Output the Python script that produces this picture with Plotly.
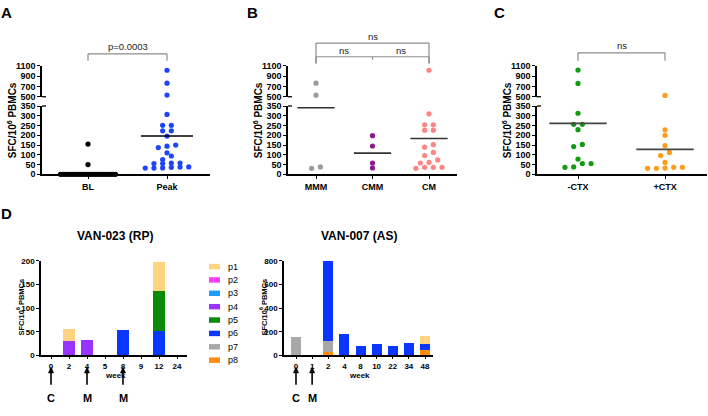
import plotly.graph_objects as go

W, H = 708, 416
FONT = 'Liberation Sans, Arial, sans-serif'

# ---------------- data ----------------
# A: SFC/10^6 PBMCs, baseline vs peak
bl_sfc = [0, 0, 0, 0, 0, 0, 0, 0, 0, 0, 0, 0, 0, 0, 0, 0, 0, 0, 0, 0, 0, 0, 0, 50, 155]
peak_sfc = [1017, 765, 533, 307, 251, 251, 223, 223, 196, 150, 144, 137, 110, 94, 76,
            58, 58, 55, 55, 38, 37, 36, 33, 32, 32]
# B: by vaccine schedule
mmm_sfc = [765, 530, 38, 31]
cmm_sfc = [198, 145, 58, 33]
cm_sfc = [1017, 310, 254, 254, 226, 226, 152, 139, 112, 96, 74, 61, 58, 36, 36, 36, 31]
# C: without / with cyclophosphamide
noctx_sfc = [1020, 760, 313, 256, 256, 229, 153, 142, 78, 55, 55, 38, 36]
ctx_sfc = [525, 228, 200, 147, 112, 96, 61, 36, 36, 32, 31, 31]

# D: peptide responses per week
peptides = ['p1', 'p2', 'p3', 'p4', 'p5', 'p6', 'p7', 'p8']
pep_colors = ['#ffd480', '#ff3dff', '#1f9bff', '#9933ff', '#0a8c0a', '#0a36ff', '#a8a8a8', '#ff8c0a']

van023_weeks = ['0', '2', '4', '5', '8', '9', '12', '24']
van023_p1 = [0, 25, 0, 0, 0, 0, 60, 0]
van023_p2 = [0, 0, 0, 0, 0, 0, 0, 0]
van023_p3 = [0, 0, 0, 0, 0, 0, 0, 0]
van023_p4 = [0, 30, 32, 0, 0, 0, 0, 0]
van023_p5 = [0, 0, 0, 0, 0, 0, 85, 0]
van023_p6 = [0, 0, 0, 0, 54, 0, 52, 0]
van023_p7 = [0, 0, 0, 0, 0, 0, 0, 0]
van023_p8 = [0, 0, 0, 0, 0, 0, 0, 0]
van023_dose_weeks = ['0', '4', '8']
van023_dose_types = ['C', 'M', 'M']

van007_weeks = ['0', '1', '2', '4', '8', '10', '22', '34', '48']
van007_p1 = [0, 0, 0, 0, 0, 0, 0, 0, 70]
van007_p2 = [0, 0, 0, 0, 0, 0, 0, 0, 0]
van007_p3 = [0, 0, 0, 0, 0, 0, 0, 0, 0]
van007_p4 = [0, 0, 0, 0, 0, 0, 0, 0, 0]
van007_p5 = [0, 0, 0, 0, 0, 0, 0, 0, 0]
van007_p6 = [0, 0, 675, 177, 83, 92, 80, 105, 50]
van007_p7 = [152, 0, 97, 0, 0, 0, 0, 0, 0]
van007_p8 = [0, 0, 28, 0, 0, 0, 0, 0, 45]
van007_dose_weeks = ['0', '1']
van007_dose_types = ['C', 'M']

van023 = [van023_p1, van023_p2, van023_p3, van023_p4, van023_p5, van023_p6, van023_p7, van023_p8]
van007 = [van007_p1, van007_p2, van007_p3, van007_p4, van007_p5, van007_p6, van007_p7, van007_p8]


# ---------------- helpers ----------------
def px_x(p):
    return p / W


def px_y(p):
    return 1 - p / H


def key(name):
    return name[0] + 'axis' + name[1:]


def tfont(size, bold=True, color='black'):
    d = dict(family=FONT, size=size, color=color)
    if bold:
        d['weight'] = 'bold'
    return d


def label(text, x, y, size, bold=True, xref='paper', color='black', **kw):
    d = dict(text=text, x=x, y=y, xref=xref, yref='paper', showarrow=False,
             xanchor='center', yanchor='middle', font=tfont(size, bold, color))
    d.update(kw)
    return d


def swarm(vals, thresh=4.0, step=8.7, max_w=55):
    # prism-like rows: close values share a row, centred on the category
    ypx = [v * 70 / 350 if v <= 350 else 80 + (v - 500) * 31.5 / 600 for v in vals]
    order = sorted(range(len(vals)), key=lambda i: ypx[i])
    rows = []
    for i in order:
        if rows and ypx[i] - ypx[rows[-1][0]] < thresh:
            rows[-1].append(i)
        else:
            rows.append([i])
    off = [0.0] * len(vals)
    for row in rows:
        n = len(row)
        s = step if n < 2 else min(step, max_w / (n - 1))
        for k, i in enumerate(row):
            off[i] = (k - (n - 1) / 2) * s
    return off


axis_common = dict(showline=True, linecolor='black', linewidth=1.5, ticks='outside',
                   ticklen=3, tickwidth=1.3, tickcolor='black', showgrid=False,
                   zeroline=False, fixedrange=True)

fig = go.Figure()
layout = {}
shapes = []
annotations = []

SFC = 'SFC/10<sup>6</sup> PBMCs'

# ---------------- panels A, B, C (scatter dot plots with broken axis) ----------------
dot_panels = [
    # letter, n, groups, x0, x1, first cat px, last cat px, mean colour, title x, letter x
    ('A', 1, [('BL', bl_sfc, 'black'), ('Peak', peak_sfc, '#1f45fc')],
     42, 210, 88, 167, 'black', 12, 6),
    ('B', 2, [('MMM', mmm_sfc, '#9b9b9b'), ('CMM', cmm_sfc, '#8e1b8e'), ('CM', cm_sfc, '#f98585')],
     288, 457, 316, 429, '#333333', 258, 252),
    ('C', 3, [('-CTX', noctx_sfc, '#139c13'), ('+CTX', ctx_sfc, '#ff9c1c')],
     537, 707, 578, 665, '#444444', 507, 499),
]

for letter, n, groups, x0, x1, c0, c1, mcol, tx, lx in dot_panels:
    xn = 'x' if n == 1 else f'x{n}'
    ylo = 'y' if n == 1 else f'y{2 * n - 1}'
    yhi = f'y{2 * n}'
    ppu = (c1 - c0) / (len(groups) - 1)
    layout[key(xn)] = dict(axis_common, domain=[px_x(x0), px_x(x1)], anchor=ylo,
                           range=[(x0 - c0) / ppu, (x1 - c0) / ppu],
                           tickvals=list(range(len(groups))),
                           ticktext=[g[0] for g in groups], tickfont=tfont(9))
    layout[key(ylo)] = dict(axis_common, domain=[px_y(173.5), px_y(103.5)], anchor=xn,
                            range=[0, 350], tickvals=[0, 50, 100, 150, 200, 250, 300, 350],
                            tickfont=tfont(9))
    layout[key(yhi)] = dict(axis_common, domain=[px_y(94), px_y(62.5)], anchor=xn,
                            range=[500, 1100], tickvals=[500, 700, 900, 1100],
                            tickfont=tfont(9))
    for gi, (name, vals, col) in enumerate(groups):
        off = swarm(vals)
        lo = [(gi + o / ppu, v) for o, v in zip(off, vals) if v <= 350]
        hi = [(gi + o / ppu, v) for o, v in zip(off, vals) if v > 350]
        for pts, ya in ((lo, ylo), (hi, yhi)):
            if pts:
                fig.add_trace(go.Scatter(
                    x=[p[0] for p in pts], y=[p[1] for p in pts], mode='markers',
                    marker=dict(color=col, size=5.2, line=dict(width=0)),
                    xaxis=xn, yaxis=ya, cliponaxis=False, showlegend=False, hoverinfo='skip'))
        m = sum(vals) / len(vals)
        fig.add_trace(go.Scatter(
            x=[gi - 0.33, gi + 0.33], y=[m, m], mode='lines',
            line=dict(color=mcol, width=1.6), xaxis=xn,
            yaxis=ylo if m <= 350 else yhi, cliponaxis=False,
            showlegend=False, hoverinfo='skip'))
    # axis break marks
    for yy in (94, 103.5):
        shapes.append(dict(type='line', xref='paper', yref='paper',
                           x0=px_x(x0), x1=px_x(x0 + 4), y0=px_y(yy), y1=px_y(yy),
                           line=dict(color='black', width=1.3)))
    annotations.append(label(SFC, px_x(tx), px_y(118), 10, textangle=-90))
    annotations.append(label(letter, px_x(lx), px_y(8), 15))

# significance brackets
BR = dict(color='#8c8c8c', width=1.2)


def bracket(xref, a, b, top, bot, text, ty):
    shapes.append(dict(type='line', xref=xref, yref='paper', x0=a, x1=b,
                       y0=px_y(top), y1=px_y(top), line=BR))
    for xx in (a, b):
        shapes.append(dict(type='line', xref=xref, yref='paper', x0=xx, x1=xx,
                           y0=px_y(top), y1=px_y(bot), line=BR))
    if text:
        annotations.append(label(text, (a + b) / 2, px_y(ty), 9.5, bold=False,
                                 xref=xref, color='#222'))


bracket('x', 0, 1, 50, 57, 'p=0.0003', 43)
bracket('x2', 0, 2, 39, 60, 'ns', 32)
bracket('x2', 0, 2, 53, 60, '', 47)
shapes.append(dict(type='line', xref='x2', yref='paper', x0=1, x1=1,
                   y0=px_y(53), y1=px_y(56), line=BR))
for cx in (0.5, 1.5):
    annotations.append(label('ns', cx, px_y(47), 9.5, bold=False, xref='x2', color='#222'))
bracket('x3', 0, 1, 49, 57, 'ns', 41)

# ---------------- panel D (stacked bars) ----------------
bar_panels = [
    # x name, y name, weeks, data, x0, x1, first cat px, last cat px, y ticks, y max, bar width,
    # title, title x, y-title x, dose weeks, dose types
    ('x4', 'y7', van023_weeks, van023, 41, 187, 51, 177, [0, 50, 100, 150, 200], 200, 0.67,
     'VAN-023 (RP)', 115, 20, van023_dose_weeks, van023_dose_types),
    ('x5', 'y8', van007_weeks, van007, 284, 433, 296, 425, [0, 200, 400, 600, 800], 800, 0.62,
     'VAN-007 (AS)', 359, 263, van007_dose_weeks, van007_dose_types),
]

for (xn, yn, weeks, data, x0, x1, c0, c1, yticks, ymax, bw,
     title, tx, ytx, dweeks, dtypes) in bar_panels:
    ppu = (c1 - c0) / (len(weeks) - 1)
    layout[key(xn)] = dict(axis_common, domain=[px_x(x0), px_x(x1)], anchor=yn, type='category',
                           range=[(x0 - c0) / ppu, (x1 - c0) / ppu], tickfont=tfont(8),
                           ticklen=2)
    layout[key(yn)] = dict(axis_common, domain=[px_y(359), px_y(262)], anchor=xn,
                           range=[0, ymax], tickvals=yticks, tickfont=tfont(8))
    for k in reversed(range(len(peptides))):
        fig.add_trace(go.Bar(x=weeks, y=data[k], name=peptides[k], width=bw,
                             marker=dict(color=pep_colors[k], line=dict(width=0)),
                             xaxis=xn, yaxis=yn, showlegend=False, hoverinfo='skip'))
    annotations.append(label(title, px_x(tx), px_y(237), 12))
    annotations.append(label('week', px_x(tx), px_y(380), 8))
    annotations.append(label(SFC, px_x(ytx), px_y(310), 7.5, textangle=-90))
    # dose arrows (shaft + head) and dose type letters
    hw = 2.6 / ppu
    for w, t in zip(dweeks, dtypes):
        i = weeks.index(w)
        shapes.append(dict(type='line', xref=xn, yref='paper', x0=i, x1=i,
                           y0=px_y(389), y1=px_y(376), line=dict(color='black', width=1.6)))
        shapes.append(dict(type='path', xref=xn, yref='paper',
                           path=f'M {i - hw},{px_y(377)} L {i + hw},{px_y(377)} '
                                f'L {i},{px_y(371)} Z',
                           fillcolor='black', line=dict(color='black', width=0.5)))
        annotations.append(label(t, i, px_y(403), 11, xref=xn))

# shared peptide legend
for k, (p, c) in enumerate(zip(peptides, pep_colors)):
    yc = 268 + 13.7 * k
    shapes.append(dict(type='rect', xref='paper', yref='paper', x0=px_x(209), x1=px_x(220),
                       y0=px_y(yc + 2.8), y1=px_y(yc - 2.8), fillcolor=c, line=dict(width=0)))
    annotations.append(label(p, px_x(226), px_y(yc), 9, bold=False, xanchor='left'))

annotations.append(label('D', px_x(6), px_y(214), 15))

fig.update_layout(
    width=W, height=H, autosize=False,
    margin=dict(l=0, r=0, t=0, b=0),
    paper_bgcolor='white', plot_bgcolor='rgba(0,0,0,0)',
    barmode='stack', bargap=0.3,
    shapes=shapes, annotations=annotations,
    font=dict(family=FONT, color='black'),
    **layout
)

# remove the default 8px page margin so the figure sits at the window's corner
fig.write_html('out.html', config={'displayModeBar': False},
               post_script="document.body.style.margin='0px';")
